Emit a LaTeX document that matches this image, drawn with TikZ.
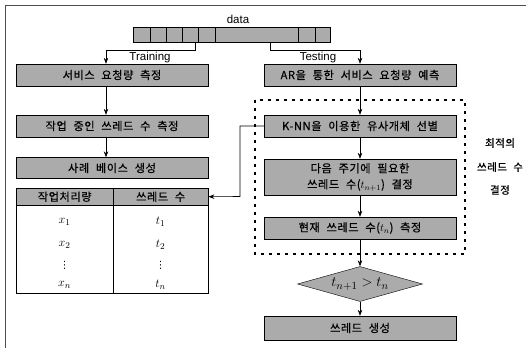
\documentclass[tikz,border=0pt]{standalone}
\usepackage{fontspec}
\setsansfont{Liberation Sans}
\newfontfamily\kr[LetterSpace=5,WordSpace=2.2,FakeBold=0.6]{Noto Sans CJK KR}
\newfontfamily\dvs{DejaVu Sans}
\usetikzlibrary{shapes.geometric,arrows.meta,calc}
\begin{document}
\begin{tikzpicture}[x=1pt,y=-1pt,
  box/.style={draw=black,fill=black!33,minimum width=192pt,minimum height=22pt,inner sep=0pt,align=center,font=\kr\fontsize{11.2}{16}\selectfont},
  hcell/.style={draw=black,fill=black!33,minimum height=17pt,inner sep=0pt,font=\kr\fontsize{11.2}{12}\selectfont},
  arr/.style={-{Stealth[length=6pt,width=4.5pt]},line width=0.6pt},
  cell/.style={inner sep=0pt,font=\fontsize{13}{13}\selectfont},
  vd/.style={inner sep=0pt,font=\dvs\fontsize{10}{10}\selectfont},
  side/.style={font=\kr\fontsize{10.5}{12}\selectfont},
  lab/.style={font=\sffamily\fontsize{11.5}{12}\selectfont,inner sep=0pt}]
\useasboundingbox (0,0) rectangle (526,348);
\fill[white] (0,0) rectangle (526,348);
% partial outer frame
\draw[black!70,line width=0.7pt] (5,348) -- (5,5) -- (526,5);
% data bar
\node[draw=black,fill=black!33,minimum width=197pt,minimum height=15pt,inner sep=0pt,anchor=north west] (bar) at (133,27) {};
\foreach \xx in {150,166,182,198,215,298,315}{\draw[line width=0.5pt] (\xx,27) -- (\xx,42);}
\node[lab] (data) at (238,19) {data};
% left column
\node[box] (b1) at (112,75) {서비스 요청량 측정};
\node[box] (b2) at (112,126) {작업 중인 쓰레드 수 측정};
\node[box,minimum height=21pt] (b3) at (112,168) {사례 베이스 생성};
\node[hcell,minimum width=97pt,anchor=north west] (h1) at (16,188) {작업처리량};
\node[hcell,minimum width=95pt,anchor=north west] (h2) at (113,188) {쓰레드 수};
\node[draw=black,minimum width=97pt,minimum height=88pt,inner sep=0pt,anchor=north west] (c1) at (16,205) {};
\node[draw=black,minimum width=95pt,minimum height=88pt,inner sep=0pt,anchor=north west] (c2) at (113,205) {};
\node[cell] (x1) at (64.5,222) {$x_1$};
\node[cell] (x2) at (64.5,245) {$x_2$};
\node[vd] (xd) at (64.5,265) {⋮};
\node[cell] (xn) at (64.5,285) {$x_n$};
\node[cell] (t1) at (160.5,222) {$t_1$};
\node[cell] (t2) at (160.5,245) {$t_2$};
\node[vd] (td) at (160.5,265) {⋮};
\node[cell] (tn) at (160.5,285) {$t_n$};
% right column
\node[box] (ar) at (360,75) {AR을 통한 서비스 요청량 예측};
\draw[line width=2.6pt,dash pattern=on 3pt off 5pt] (255,100) rectangle (465,254);
\node[box] (knn) at (360,126) {K-NN을 이용한 유사개체 선별};
\node[box,minimum height=36pt] (nx) at (360,177) {다음 주기에 필요한\\쓰레드 수($t_{n+1}$) 결정};
\node[box] (cur) at (360,228) {현재 쓰레드 수($t_n$) 측정};
\node[diamond,draw=black,fill=black!33,minimum width=125pt,minimum height=35pt,aspect=3.57,inner sep=0pt,font=\fontsize{15}{15}\selectfont] (dec) at (360,284) {$t_{n+1} > t_n$};
\node[box,minimum height=24pt] (gen) at (360,328) {쓰레드 생성};
% side label
\node[side] (s1) at (500,143) {최적의};
\node[side] (s2) at (500,167) {쓰레드 수};
\node[side] (s3) at (500,190) {결정};
% training / testing branches
\coordinate (tr1) at (195,50);
\coordinate (tr2) at (106,50);
\coordinate (te1) at (270,50);
\coordinate (te2) at (360,50);
\draw[arr] (bar.south -| tr1) -- (tr1) -- (tr2) -- (tr2 |- b1.north);
\draw[arr] (bar.south -| te1) -- (te1) -- (te2) -- (te2 |- ar.north);
\node[lab,anchor=south] (trl) at (150,63) {Training};
\node[lab,anchor=south] (tel) at (318,63) {Testing};
% left arrows
\draw[arr] (b1.south -| tr2) -- (b2.north -| tr2);
\draw[arr] (b2.south -| tr2) -- (b3.north -| tr2);
% right arrows
\draw[arr] (ar.south) -- (knn.north);
\draw[arr] (knn.south) -- (nx.north);
\draw[arr] (nx.south) -- (cur.north);
\draw[arr] (cur.south) -- (dec.north);
\draw[arr] (dec.south) -- (gen.north);
% feedback
\coordinate (fb) at (240,196.5);
\draw[arr] (knn.west) -| (fb) -- (h2.east);
\end{tikzpicture}
\end{document}
